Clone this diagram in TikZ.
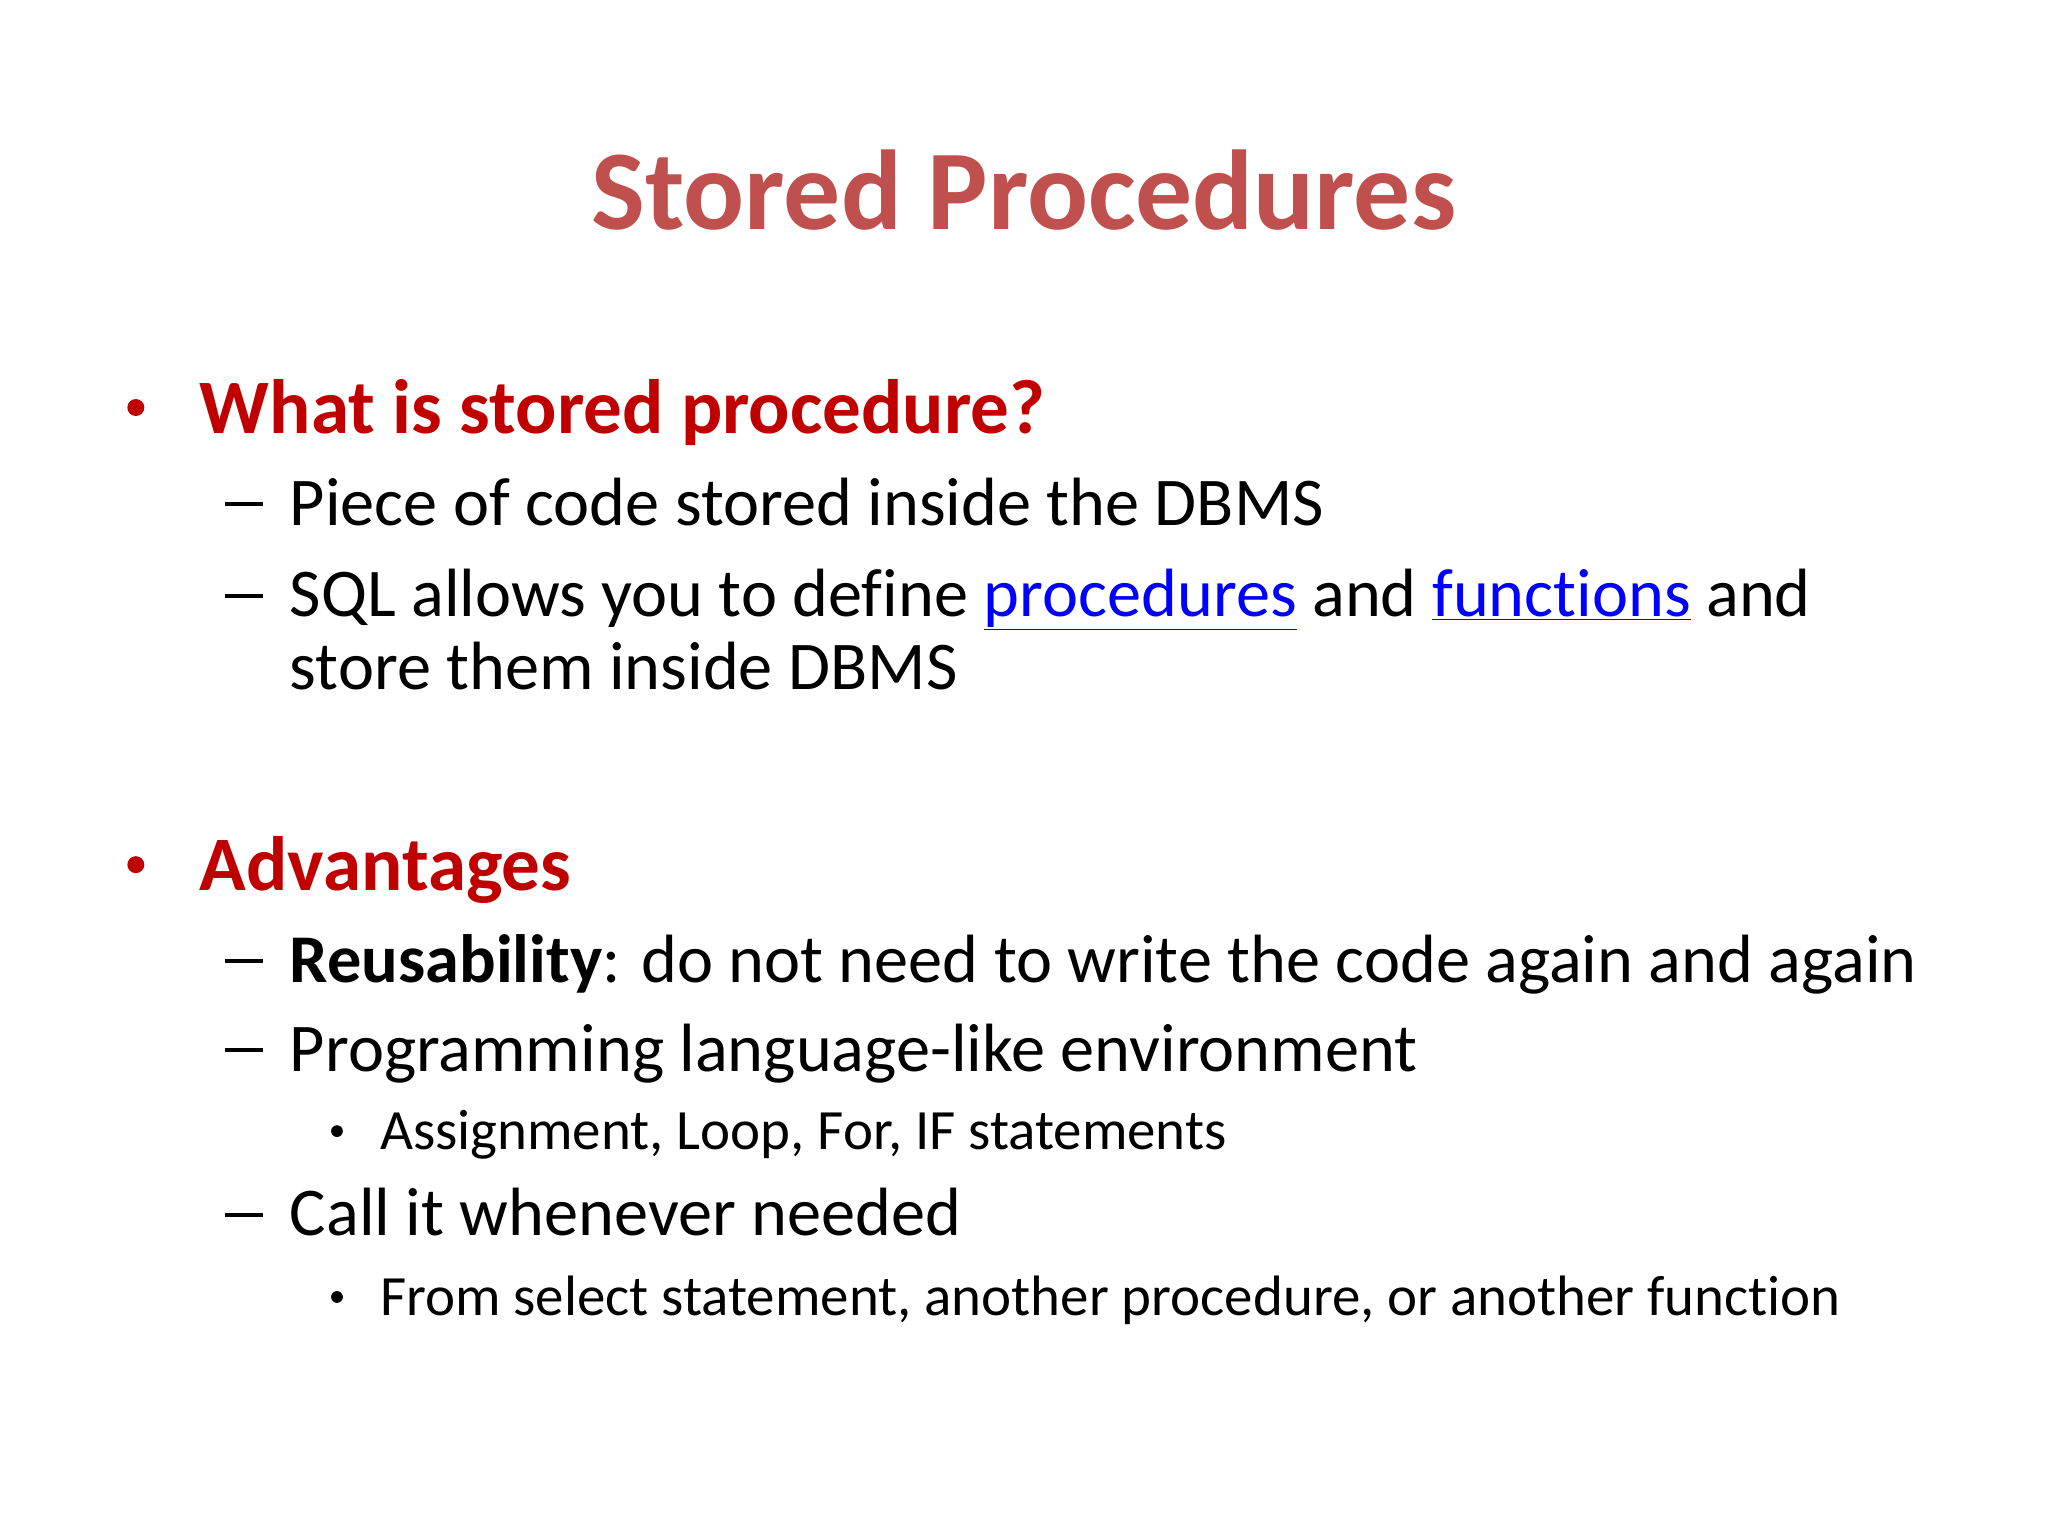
\documentclass[tikz,border=0pt]{standalone}
\usepackage{fontspec}
\setmainfont[Ligatures={NoCommon,NoRequired,NoContextual,NoDiscretionary}]{Carlito}
\definecolor{titlec}{HTML}{C0504D}
\definecolor{headc}{HTML}{C00000}
\definecolor{linkc}{HTML}{0000FF}
\begin{document}
\begin{tikzpicture}[x=1pt,y=-1pt,
  txt/.style={anchor=base west,inner sep=0pt,outer sep=0pt},
  head/.style={txt,font=\fontsize{59}{64}\selectfont\bfseries,text=headc},
  body/.style={txt,font=\fontsize{52.3}{56}\selectfont},
  small/.style={txt,font=\fontsize{43.6}{48}\selectfont},
  dot/.style={circle,fill,inner sep=0pt,minimum size=#1}]
\useasboundingbox (0,0) rectangle (1568,1176);
\node[txt,anchor=base,font=\fontsize{87}{92}\selectfont\bfseries,text=titlec] (title) at (784,176) {Stored Procedures};
\node[dot=13pt,text=headc,fill=headc] (b1) at (104,312) {};
\node[head] (h1) at (153,332) {What is stored procedure?};
\draw[line width=3pt] (172,386) coordinate (d1a) -- (201,386) coordinate (d1b);
\node[body] (t1) at (222,402) {Piece of code stored inside the DBMS};
\draw[line width=3pt] (172,456) coordinate (d2a) -- (201,456) coordinate (d2b);
\node[body] (t2) at (222,472) {SQL allows you to define \textcolor{linkc}{\underline{procedures}} and \textcolor{linkc}{\underline{functions}} and};
\node[body] (t2b) at (222,528) {store them inside DBMS};
\node[dot=13pt,fill=headc] (b2) at (104,662) {};
\node[head] (h2) at (153,682) {Advantages};
\draw[line width=3pt] (172,736) coordinate (d3a) -- (201,736) coordinate (d3b);
\node[body] (t3) at (222,752) {\textbf{Reusability}: do not need to write the code again and again};
\draw[line width=3pt] (172,804) coordinate (d4a) -- (201,804) coordinate (d4b);
\node[body] (t4) at (222,820) {Programming language-like environment};
\node[dot=9pt] (s1) at (258,866) {};
\node[small] (u1) at (291,880) {Assignment, Loop, For, IF statements};
\draw[line width=3pt] (172,930) coordinate (d5a) -- (201,930) coordinate (d5b);
\node[body] (t5) at (222,946) {Call it whenever needed};
\node[dot=9pt] (s2) at (258,993) {};
\node[small] (u2) at (291,1007) {From select statement, another procedure, or another function};
\end{tikzpicture}
\end{document}
